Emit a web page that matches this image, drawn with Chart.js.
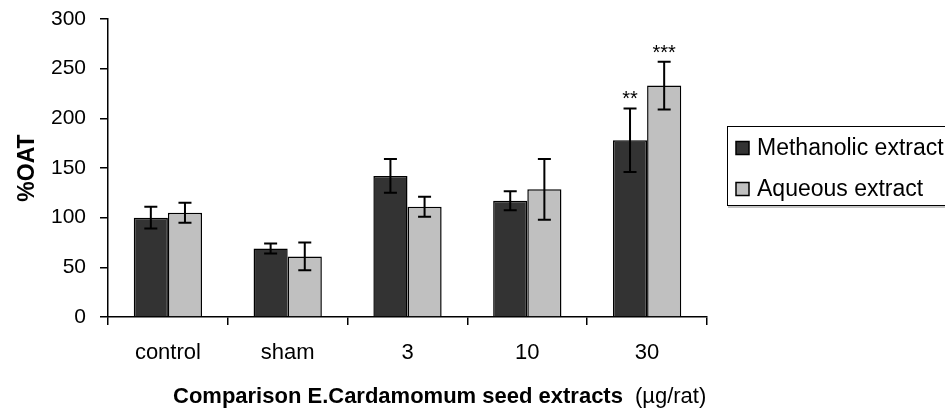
<!DOCTYPE html>
<html>
<head>
<meta charset="utf-8">
<script src="https://cdn.jsdelivr.net/npm/chart.js@4"></script>
<style>
  html, body { margin: 0; padding: 0; background: #fff; }
  #wrap { width: 945px; height: 411px; position: relative; }
</style>
</head>
<body>
<div id="wrap"><canvas id="oatChart"></canvas></div>
<script>
// values
const categories = ['control', 'sham', '3', '10', '30'];
const methanolic = [100, 69, 142, 117, 178];
const methanolicErr = [11, 5, 17, 9.5, 32];
const aqueous = [105, 61, 111, 128.5, 233];
const aqueousErr = [10, 14, 10, 30.5, 24];
const methanolicStars = ['', '', '', '', '**'];
const aqueousStars = ['', '', '', '', '***'];
const yTicks = [0, 50, 100, 150, 200, 250, 300];

const FONT = '"Liberation Sans", Arial, sans-serif';

// error bars + significance stars on top of the bars
const errorBarPlugin = {
  id: 'errorBars',
  afterDatasetsDraw(chart) {
    const ctx = chart.ctx;
    const y = chart.scales.y;
    chart.data.datasets.forEach((ds, i) => {
      const meta = chart.getDatasetMeta(i);
      meta.data.forEach((bar, j) => {
        const v = ds.data[j];
        const e = ds.errors[j];
        const top = y.getPixelForValue(v + e);
        const bot = y.getPixelForValue(v - e);
        ctx.save();
        ctx.strokeStyle = '#000';
        ctx.lineWidth = 2;
        ctx.beginPath();
        ctx.moveTo(bar.x, top);
        ctx.lineTo(bar.x, bot);
        ctx.moveTo(bar.x - 6.5, top);
        ctx.lineTo(bar.x + 6.5, top);
        ctx.moveTo(bar.x - 6.5, bot);
        ctx.lineTo(bar.x + 6.5, bot);
        ctx.stroke();
        if (ds.stars[j]) {
          ctx.fillStyle = '#000';
          ctx.font = '20px ' + FONT;
          ctx.textAlign = 'center';
          ctx.textBaseline = 'alphabetic';
          ctx.fillText(ds.stars[j], bar.x, top - 3);
        }
        ctx.restore();
      });
    });
  }
};

// x title (bold part + plain unit) and the boxed legend on the right
const decorPlugin = {
  id: 'decor',
  afterDraw(chart) {
    const ctx = chart.ctx;
    const area = chart.chartArea;
    ctx.save();
    ctx.fillStyle = '#000';
    ctx.textBaseline = 'alphabetic';
    ctx.textAlign = 'left';
    ctx.font = 'bold 22px ' + FONT;
    const boldText = 'Comparison E.Cardamomum seed extracts';
    const bx = area.left + 65;
    ctx.fillText(boldText, bx, 403);
    const bw = ctx.measureText(boldText).width;
    ctx.font = '22px ' + FONT;
    ctx.fillText('(\u00b5g/rat)', bx + bw + 12, 403);

    // legend
    const lx = area.right + 20;
    ctx.strokeStyle = '#000';
    ctx.lineWidth = 1;
    ctx.strokeRect(lx + 0.5, 126.5, 260, 79);
    ctx.strokeStyle = '#888';
    ctx.beginPath();
    ctx.moveTo(lx + 1, 207);
    ctx.lineTo(945, 207);
    ctx.stroke();
    const rows = [
      { ds: chart.data.datasets[0], cy: 148 },
      { ds: chart.data.datasets[1], cy: 189 }
    ];
    ctx.font = '23px ' + FONT;
    rows.forEach(r => {
      ctx.fillStyle = r.ds.backgroundColor;
      ctx.fillRect(lx + 9, r.cy - 6.5, 13, 13);
      ctx.strokeStyle = '#000';
      ctx.lineWidth = 1.5;
      ctx.strokeRect(lx + 9, r.cy - 6.5, 13, 13);
      ctx.fillStyle = '#000';
      ctx.fillText(r.ds.label, lx + 30, r.cy + 7);
    });
    ctx.restore();
  }
};

new Chart(document.getElementById('oatChart'), {
  type: 'bar',
  data: {
    labels: categories,
    datasets: [
      {
        label: 'Methanolic extract',
        data: methanolic,
        errors: methanolicErr,
        stars: methanolicStars,
        backgroundColor: '#333333',
        borderColor: '#000',
        borderWidth: 1.5,
        categoryPercentage: 0.57,
        barPercentage: 1
      },
      {
        label: 'Aqueous extract',
        data: aqueous,
        errors: aqueousErr,
        stars: aqueousStars,
        backgroundColor: '#c0c0c0',
        borderColor: '#000',
        borderWidth: 1.5,
        categoryPercentage: 0.57,
        barPercentage: 1
      }
    ]
  },
  options: {
    responsive: true,
    maintainAspectRatio: false,
    animation: false,
    layout: { padding: { top: 19, right: 238, bottom: 0, left: 0 } },
    plugins: {
      legend: { display: false },
      tooltip: { enabled: false }
    },
    scales: {
      x: {
        afterFit(scale) { scale.height = 94; },
        grid: {
          display: true,
          drawOnChartArea: false,
          offset: true,
          tickLength: 8,
          color: '#000',
          lineWidth: 1.5
        },
        border: { color: '#000', width: 1.5 },
        ticks: {
          color: '#000',
          padding: 15,
          maxRotation: 0,
          font: { family: FONT, size: 22 }
        }
      },
      y: {
        min: 0,
        max: 300,
        afterFit(scale) {
          scale.width = 108;
          scale.paddingTop = 0;
          scale.paddingBottom = 0;
        },
        afterBuildTicks(scale) { scale.ticks = yTicks.map(v => ({ value: v })); },
        grid: {
          display: true,
          drawOnChartArea: false,
          tickLength: 8,
          color: '#000',
          lineWidth: 1.5
        },
        border: { color: '#000', width: 1.5 },
        ticks: {
          color: '#000',
          padding: 14,
          font: { family: FONT, size: 21 }
        },
        title: {
          display: true,
          text: '%OAT',
          color: '#000',
          padding: { top: 14, bottom: 0 },
          font: { family: FONT, size: 23, weight: 'bold' }
        }
      }
    }
  },
  plugins: [errorBarPlugin, decorPlugin]
});
</script>
</body>
</html>
